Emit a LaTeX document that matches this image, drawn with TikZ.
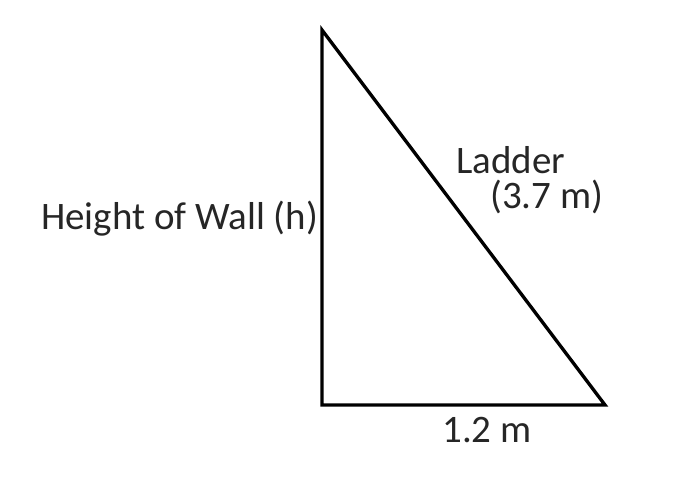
\documentclass[tikz,border=0pt]{standalone}
\usepackage{fontspec}
\setmainfont{Carlito}
\usetikzlibrary{calc}

\begin{document}
\begin{tikzpicture}[x=0.75pt,y=-0.75pt]
\def\lw{2.5pt};
\tikzset{lbl/.style={inner sep=0pt,anchor=base west,text=black!85,font=\fontsize{29.2}{34}\selectfont}}
\useasboundingbox (0,0) rectangle (674,479);
% corners of the triangle
\coordinate (top) at (322,30);
\coordinate (corner) at (322,405);
\coordinate (foot) at (605,405);
% draw wall, ground and ladder
\draw[line width=\lw,line join=miter] (top) -- (corner) -- (foot) -- cycle;
% labels
\node[lbl] (wall) at (41,229) {Height of Wall (h)};
\node[lbl] (ladder) at (456,173) {Ladder};
\node[lbl] (length) at (490,208) {(3.7 m)};
\node[lbl] (base) at (442,442) {1.2 m};
\end{tikzpicture}
\end{document}
